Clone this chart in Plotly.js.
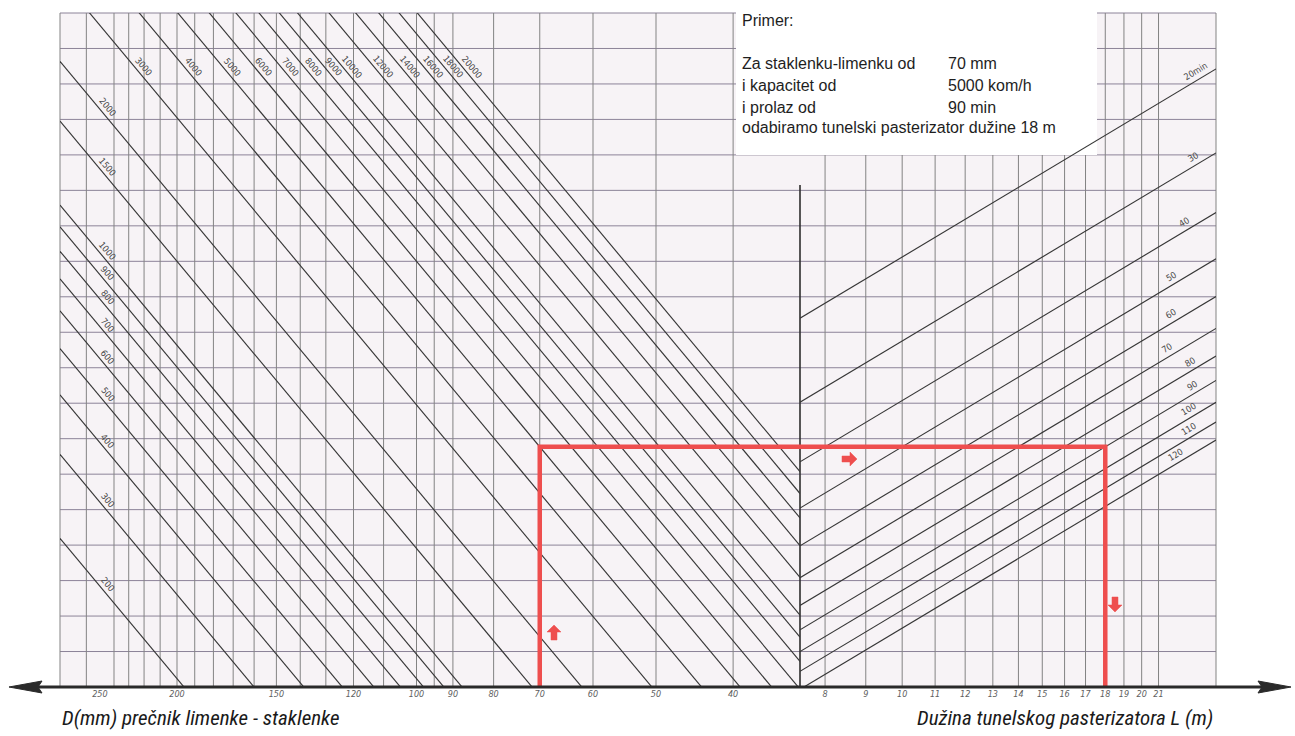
<!DOCTYPE html>
<html>
<head>
<meta charset="utf-8">
<script src="https://cdn.plot.ly/plotly-3.0.1.min.js"></script>
<style>
html,body{margin:0;padding:0;background:#ffffff;}
#chart{width:1295px;height:736px;}
</style>
</head>
<body>
<div id="chart"></div>
<script>
// ================= DATA =================
const capacities = [200,300,400,500,600,700,800,900,1000,1500,2000,3000,4000,5000,6000,7000,8000,9000,10000,12000,14000,16000,18000,20000]; // kom/h
const capacityLabels = ['200','300','400','500','600','700','800','900','1000','1500','2000','3000','4000','5000','6000','7000','8000','9000','10000','12000','14000','16000','18000','20000'];
const passTimes = [20,30,40,50,60,70,80,90,100,110,120]; // min
const passTimeLabels = ['20min','30','40','50','60','70','80','90','100','110','120'];
const diameterTicks = [250,200,150,120,100,90,80,70,60,50,40];        // mm
const diameterGrid = [260,240,230,220,210,200,190,180,170,160,150,140,130,120,110,100,95,90,80,70,60,50,40];
const lengthTicks = [8,9,10,11,12,13,14,15,16,17,18,19,20,21];        // m
const exampleDiameter = 70;     // mm
const exampleCapacity = 5000;   // kom/h
const examplePassTime = 90;     // min
const exampleLength = 18;       // m

// ================= SCALES / LAYOUT CONSTANTS =================
const D_RANGE = [280.6, 32.96];   // left log axis (reversed)
const L_RANGE = [7.44, 24.8];     // right log axis
const A_RANGE = [7.683, 199.0];   // shared log axis: container footprint m²/h
const XSPLIT = 740/1156;

// nomogram relation: footprint per hour A = C * D² ; tunnel length L = A * t / (60 * W)
const footprint = (c, d) => c * d * d / 1e6;
const beltWidth = footprint(exampleCapacity, exampleDiameter) * examplePassTime / (60 * exampleLength);
const footprintFromLength = (len, t) => len * 60 * beltWidth / t;

const traces = [];
const lineColor = '#363636';

capacities.forEach((c) => {
  traces.push({
    type: 'scatter', mode: 'lines', xaxis: 'x', yaxis: 'y',
    x: [D_RANGE[0], D_RANGE[1]],
    y: [footprint(c, D_RANGE[0]), footprint(c, D_RANGE[1])],
    line: {color: lineColor, width: 1.15}, hoverinfo: 'skip', showlegend: false
  });
});
passTimes.forEach((t) => {
  traces.push({
    type: 'scatter', mode: 'lines', xaxis: 'x2', yaxis: 'y',
    x: [L_RANGE[0], L_RANGE[1]],
    y: [footprintFromLength(L_RANGE[0], t), footprintFromLength(L_RANGE[1], t)],
    line: {color: lineColor, width: 1.15}, hoverinfo: 'skip', showlegend: false
  });
});

// example path (red)
const exA = footprint(exampleCapacity, exampleDiameter);
const red = '#ee4e4e';
traces.push({
  type: 'scatter', mode: 'lines', xaxis: 'x', yaxis: 'y',
  x: [exampleDiameter, exampleDiameter, 30],
  y: [A_RANGE[0], exA, exA],
  line: {color: red, width: 4.5}, hoverinfo: 'skip', showlegend: false
});
traces.push({
  type: 'scatter', mode: 'lines', xaxis: 'x2', yaxis: 'y',
  x: [7.0, exampleLength, exampleLength],
  y: [exA, exA, A_RANGE[0]],
  line: {color: red, width: 4.5}, hoverinfo: 'skip', showlegend: false
});

// ================= SHAPES (grid, box, axis arrow) =================
const shapes = [];
const hGridColor = '#8c8398';
const vGridColor = '#838383';
for (let k = 1; k <= 19; k++) {
  shapes.push({type:'line', xref:'paper', yref:'paper', x0:0, x1:1, y0:k/19, y1:k/19,
    line:{color:hGridColor, width:1}, layer:'below'});
}
diameterGrid.forEach(d => shapes.push({type:'line', xref:'x', yref:'paper', x0:d, x1:d, y0:0, y1:1,
  line:{color:vGridColor, width:1}, layer:'below'}));
lengthTicks.forEach(l => shapes.push({type:'line', xref:'x2', yref:'paper', x0:l, x1:l, y0:0, y1:1,
  line:{color:vGridColor, width:1}, layer:'below'}));
[0, 1].forEach(p => shapes.push({type:'line', xref:'paper', yref:'paper', x0:p, x1:p, y0:0, y1:1,
  line:{color:vGridColor, width:1}, layer:'below'}));
// white text box (no grid)
shapes.push({type:'rect', xref:'paper', yref:'paper', x0:(736-60)/1156, x1:(1097-60)/1156, y0:(687-155)/674, y1:1.03,
  fillcolor:'#ffffff', line:{width:0}, layer:'below'});
// central divider
shapes.push({type:'line', xref:'paper', yref:'paper', x0:XSPLIT, x1:XSPLIT, y0:0, y1:(687-185)/674,
  line:{color:'#2e2e2e', width:1.6}, layer:'below'});
// bottom double arrow axis
shapes.push({type:'line', xref:'paper', yref:'paper', x0:(30-60)/1156, x1:(1270-60)/1156, y0:0, y1:0,
  line:{color:'#2a2a2a', width:3.2}, layer:'above'});
const px = v => ((v-60)/1156).toFixed(5);
const py = v => ((687-v)/674).toFixed(5);
const poly = pts => 'M ' + pts.map(([a,b]) => px(a) + ',' + py(b)).join(' L ') + ' Z';
shapes.push({type:'path', xref:'paper', yref:'paper', layer:'above',
  path: poly([[9,687],[42,681],[38,687],[42,693]]),
  fillcolor:'#2a2a2a', line:{color:'#2a2a2a', width:1}});
shapes.push({type:'path', xref:'paper', yref:'paper', layer:'above',
  path: poly([[1291,687],[1258,681],[1262,687],[1258,693]]),
  fillcolor:'#2a2a2a', line:{color:'#2a2a2a', width:1}});

// red block arrows (direction of reading)
const blockArrow = (cx, cy, dir) => {
  // base arrow pointing up, centred at (cx, cy)
  const base = [[0,-8],[7,-1],[3,-1],[3,7],[-3,7],[-3,-1],[-7,-1]];
  const rot = {up:([a,b])=>[a,b], down:([a,b])=>[-a,-b], right:([a,b])=>[-b,a]}[dir];
  return poly(base.map(p => { const [a,b] = rot(p); return [cx+a, cy+b]; }));
};
[[554,633,'up'],[849,459,'right'],[1115,604,'down']].forEach(([x,y,d]) =>
  shapes.push({type:'path', xref:'paper', yref:'paper', layer:'above', path:blockArrow(x,y,d),
    fillcolor:red, line:{color:red, width:0.5}}));

// ================= ANNOTATIONS =================
const annotations = [];
const lblFont = {family:'DejaVu Sans Condensed, DejaVu Sans, sans-serif', size:9, color:'#4a4a4a'};
capacities.forEach((c, i) => {
  const d = c >= 3000 ? Math.sqrt(150e6 / c) : 248.5;
  annotations.push({xref:'x', yref:'y', x:Math.log10(d), y:Math.log10(footprint(c, d)),
    text:capacityLabels[i], showarrow:false, textangle:50, xshift:5.4, yshift:4.5, font:lblFont});
});
const timeLabelLength = [23.7,23.5,22.9,22.0,22.0,21.8,23.3,23.4,23.2,23.2,22.3];
passTimes.forEach((t, i) => {
  const len = timeLabelLength[i];
  annotations.push({xref:'x2', yref:'y', x:Math.log10(len), y:Math.log10(footprintFromLength(len, t)),
    text:passTimeLabels[i], showarrow:false, textangle:-31, xshift:-4.1, yshift:6.9, font:lblFont});
});

// example text
const boxFont = {family:'Liberation Sans, Arial, sans-serif', size:16, color:'#1e1e1e'};
const bx = (740-60)/1156, vx = (946-60)/1156;
const boxLines = [
  ['Primer:', '', 21],
  ['Za staklenku-limenku od', exampleDiameter + ' mm', 63],
  ['i kapacitet od', exampleCapacity + ' kom/h', 85],
  ['i prolaz od', examplePassTime + ' min', 107],
  ['odabiramo tunelski pasterizator dužine ' + exampleLength + ' m', '', 128]
];
boxLines.forEach(([a, b, y]) => {
  annotations.push({xref:'paper', yref:'paper', x:bx, y:(687-y)/674, xanchor:'left', yanchor:'middle',
    text:a, showarrow:false, font:boxFont});
  if (b) annotations.push({xref:'paper', yref:'paper', x:vx, y:(687-y)/674, xanchor:'left', yanchor:'middle',
    text:b, showarrow:false, font:boxFont});
});

// axis titles
const titleFont = {family:'Liberation Sans Narrow, Roboto Condensed, DejaVu Sans Condensed, sans-serif', size:21, color:'#1a1a1a', style:'italic'};
annotations.push({xref:'paper', yref:'paper', x:0, y:(687-718)/674, xanchor:'left', yanchor:'middle',
  text:'D(mm) prečnik limenke - staklenke', showarrow:false, font:titleFont});
annotations.push({xref:'paper', yref:'paper', x:(1215-60)/1156, y:(687-718)/674, xanchor:'right', yanchor:'middle',
  text:'Dužina tunelskog pasterizatora L (m)', showarrow:false, font:titleFont});

const tickFont = {family:'DejaVu Sans Condensed, DejaVu Sans, sans-serif', size:9, color:'#606060', style:'italic'};
const layout = {
  width:1295, height:736,
  margin:{l:60, r:79, t:13, b:49, pad:0},
  paper_bgcolor:'#ffffff', plot_bgcolor:'#f7f3f6',
  showlegend:false, hovermode:false,
  xaxis:{type:'log', domain:[0, XSPLIT], range:[Math.log10(D_RANGE[0]), Math.log10(D_RANGE[1])],
    tickmode:'array', tickvals:diameterTicks, ticktext:diameterTicks.map(String),
    showgrid:false, zeroline:false, showline:false, ticks:'', tickfont:tickFont, anchor:'y', fixedrange:true},
  xaxis2:{type:'log', domain:[XSPLIT, 1], range:[Math.log10(L_RANGE[0]), Math.log10(L_RANGE[1])],
    tickmode:'array', tickvals:lengthTicks, ticktext:lengthTicks.map(String),
    showgrid:false, zeroline:false, showline:false, ticks:'', tickfont:tickFont, anchor:'y', fixedrange:true},
  yaxis:{type:'log', range:[Math.log10(A_RANGE[0]), Math.log10(A_RANGE[1])],
    showgrid:false, zeroline:false, showline:false, showticklabels:false, ticks:'', fixedrange:true},
  shapes:shapes,
  annotations:annotations
};

Plotly.newPlot('chart', traces, layout, {staticPlot:true, displayModeBar:false});
</script>
</body>
</html>
